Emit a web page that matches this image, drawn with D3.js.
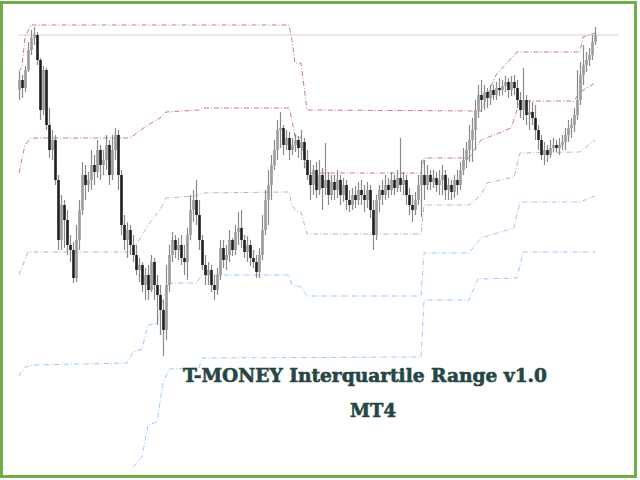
<!DOCTYPE html>
<html><head><meta charset="utf-8">
<script src="https://cdn.jsdelivr.net/npm/d3@7"></script>
<style>html,body{margin:0;padding:0;background:#fff;}svg{display:block;}</style>
</head><body>
<svg id="c" width="640" height="480"></svg>
<script>
// OHLC bars (price points)
const barOpen = [
410,420,412,430,450,462,465,440,390,430,
375,350,360,320,260,295,280,255,250,222,
260,290,325,315,320,335,328,350,335,340,
355,325,350,365,325,275,260,270,255,245,
230,235,215,225,210,238,215,205,190,170,
215,245,260,250,255,242,238,265,290,300,
285,260,235,225,230,215,210,225,252,240,
245,260,250,268,272,260,248,255,242,238,
228,245,270,300,315,335,350,370,372,355,
362,350,355,360,352,358,340,325,315,330,
310,325,312,320,305,318,310,320,305,315,
300,295,305,300,310,305,300,310,290,265,
300,310,305,315,310,320,312,322,315,320,
305,295,290,300,315,325,315,325,318,322,
315,320,325,310,315,308,320,315,330,340,
350,360,370,390,405,400,408,402,410,405,
412,410,414,418,410,418,412,400,390,400,
385,388,382,370,360,345,350,345,352,355,
352,355,358,365,372,375,385,400,425,435,
440,445,458];
const barHigh = [
428,425,434,458,470,473,468,442,434,432,
392,370,365,325,305,300,290,265,258,275,
300,338,335,328,350,345,360,355,350,365,
360,365,372,370,330,285,278,275,265,255,
242,238,232,235,245,242,225,215,200,235,
255,268,265,262,265,255,272,305,310,320,
300,265,245,238,235,225,232,260,260,255,
270,262,275,288,290,265,264,260,250,245,
252,285,310,330,345,360,380,388,375,370,
368,362,366,364,370,362,350,340,335,338,
340,332,357,328,325,325,330,325,322,320,
310,312,314,318,320,315,318,315,300,305,
315,320,325,322,328,325,330,362,328,325,
312,305,308,325,340,340,335,330,330,328,
330,335,330,322,320,325,330,338,352,358,
375,382,400,415,420,415,412,415,415,418,
422,420,424,422,424,425,420,408,432,405,
400,398,395,375,365,358,355,360,362,360,
362,365,372,380,382,392,430,438,455,448,
452,465,473];
const barLow = [
400,402,408,428,445,455,435,380,385,370,
342,340,315,250,250,252,245,238,217,218,
250,285,300,308,310,315,322,320,325,330,
315,320,340,310,265,250,242,245,238,225,
218,208,200,200,208,200,175,165,144,160,
208,238,242,240,235,225,220,260,278,275,
250,230,215,215,208,200,205,220,232,230,
238,244,245,255,252,242,238,234,232,222,
222,240,265,275,300,330,340,352,345,350,
340,345,348,342,340,332,320,300,305,302,
305,290,305,295,300,300,302,295,298,290,
288,290,292,295,295,288,292,282,250,260,
288,295,300,302,305,305,308,308,305,295,
285,278,285,295,283,300,310,310,312,308,
305,305,300,300,300,302,305,310,325,332,
338,338,350,382,388,390,392,395,400,400,
404,405,408,402,404,405,392,382,380,375,
370,375,360,350,340,335,338,342,348,348,
345,350,350,358,362,368,380,395,415,428,
434,440,455];
const barClose = [
420,412,430,450,462,465,440,390,430,375,
350,360,320,260,295,280,255,250,222,260,
290,325,315,320,335,328,350,335,340,355,
325,350,365,325,275,260,270,255,245,230,
235,215,225,210,238,215,205,190,170,215,
245,260,250,255,242,238,265,290,300,285,
260,235,225,230,215,210,225,252,240,245,
260,250,268,272,260,248,255,242,238,228,
245,270,300,315,335,350,370,372,355,362,
350,355,360,352,358,340,325,315,330,310,
325,312,320,305,318,310,320,305,315,300,
295,305,300,310,305,300,310,290,265,300,
310,305,315,310,320,312,322,315,320,305,
295,290,300,315,325,315,325,318,322,315,
320,325,310,315,308,320,315,330,340,350,
360,370,390,405,400,408,402,410,405,412,
410,414,418,410,418,412,400,390,400,385,
388,382,370,360,345,350,345,352,355,352,
355,358,365,372,375,385,400,425,435,440,
445,458,465];

// Interquartile band lines: [bar index, price]
const upperOuter = [[0,428],[1,433],[2,463],[4,475],[90,475],[91,460],[92,437],[94,437],[96,390],[154,389],[159,425],[166,448],[187,448],[188,463],[192,467]];
const upperInner = [[0,327],[2,355],[4,362],[37,362],[42,373],[47,382],[49,388],[60,390],[61,392],[90,392],[91,380],[92,363],[94,363],[96,327],[134,327],[135,342],[150,342],[154,360],[160,367],[164,372],[166,390],[167,399],[185,399],[187,408],[192,417]];
const median = [[0,225],[3,248],[37,248],[40,260],[43,275],[47,290],[49,302],[59,304],[61,307],[90,308],[91,295],[92,290],[94,288],[96,266],[134,266],[135,295],[150,295],[154,305],[156,317],[165,323],[167,347],[187,348],[192,360]];
const lowerInner = [[0,124],[2,133],[5,135],[36,137],[38,148],[41,151],[43,175],[46,177],[48,200],[50,217],[59,217],[61,225],[90,225],[91,215],[94,213],[96,204],[134,204],[135,247],[150,247],[154,262],[165,272],[167,298],[187,298],[192,304]];
const lowerOuter = [[38,33],[41,43],[43,75],[46,78],[48,117],[50,131],[60,132],[61,142],[134,143],[135,200],[150,200],[153,221],[166,222],[168,248],[192,248]];

const titleText = "T-MONEY Interquartile Range v1.0";
const subText = "MT4";

const svg = d3.select("#c");
const x = d3.scaleLinear().domain([0, barClose.length - 1]).range([19, 595]);
const y = d3.scaleLinear().domain([20, 500]).range([480, 0]);

// current price line
svg.append("line").attr("x1", 18).attr("x2", 619)
  .attr("y1", y(barClose[barClose.length-1])).attr("y2", y(barClose[barClose.length-1]))
  .attr("stroke", "#d4d4d4").attr("stroke-width", 1);

const line = d3.line().x(d => x(d[0])).y(d => y(d[1]));
const bands = [
  {d: upperOuter, c: "#b04848"},
  {d: upperInner, c: "#b04848"},
  {d: median, c: "#9a9a9a"},
  {d: lowerInner, c: "#6fb4f5"},
  {d: lowerOuter, c: "#6fb4f5"}
];
bands.forEach(b => {
  svg.append("path").attr("d", line(b.d)).attr("fill", "none")
    .attr("stroke", b.c).attr("stroke-width", 1).attr("stroke-opacity", 0.7)
    .attr("stroke-dasharray", "5,2,1,2");
});

// candles
const idx = d3.range(barClose.length);
const g = svg.append("g");
g.selectAll("line.w").data(idx).join("line").attr("class","w")
  .attr("x1", i => x(i)+0.5).attr("x2", i => x(i)+0.5)
  .attr("y1", i => y(barHigh[i])).attr("y2", i => y(barLow[i]))
  .attr("stroke", "#8a8a8a").attr("stroke-width", 1.2);
g.selectAll("rect.b").data(idx).join("rect").attr("class","b")
  .attr("x", i => x(i)-0.8).attr("width", 2.6)
  .attr("y", i => y(Math.max(barOpen[i], barClose[i])))
  .attr("height", i => Math.max(1, Math.abs(y(barOpen[i]) - y(barClose[i]))))
  .attr("fill", i => barClose[i] >= barOpen[i] ? "#9c9c9c" : "#202020");

// titles
const tf = t => t.attr("font-family", "DejaVu Serif").attr("font-weight", "bold").attr("font-size", 19)
  .attr("fill", "#264646").attr("stroke", "#264646").attr("stroke-width", 0.6)
  .attr("lengthAdjust", "spacingAndGlyphs");
svg.append("text").attr("x", 183).attr("y", 382).text(titleText).attr("textLength", 364).call(tf);
svg.append("text").attr("x", 350).attr("y", 417).text(subText).attr("textLength", 46).call(tf);

// frame
svg.append("rect").attr("x", 1.5).attr("y", 2.5).attr("width", 634).attr("height", 474)
  .attr("fill", "none").attr("stroke", "#70ad47").attr("stroke-width", 3);
</script>
</body></html>
